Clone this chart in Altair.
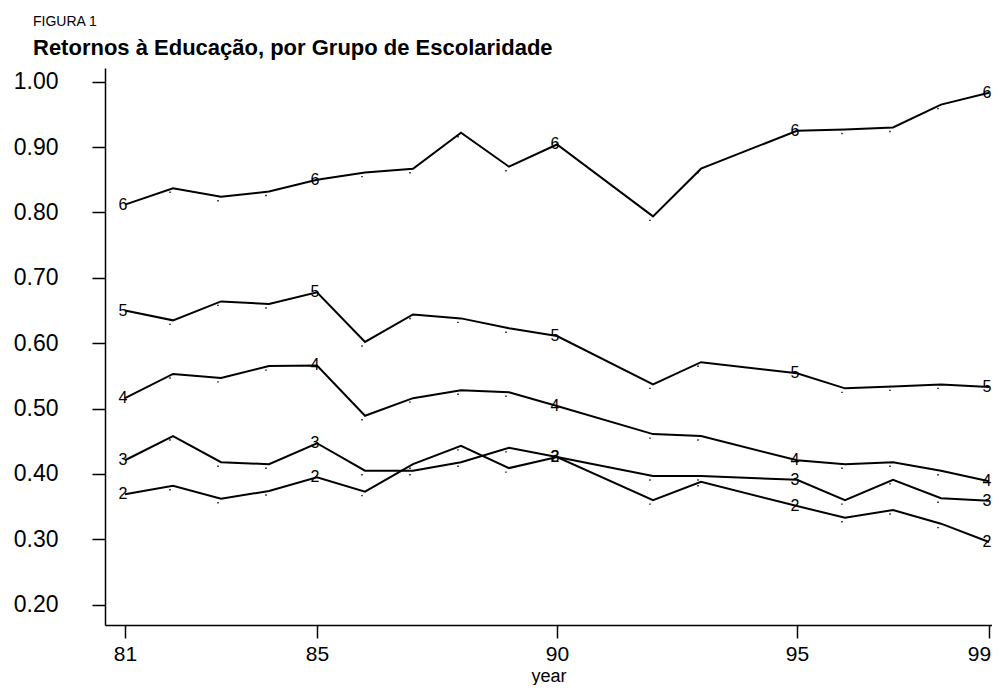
import altair as alt
import pandas as pd

years = [81, 82, 83, 84, 85, 86, 87, 88, 89, 90, 92, 93, 95, 96, 97, 98, 99]
g6 = [0.812, 0.837, 0.824, 0.832, 0.850, 0.861, 0.867, 0.922, 0.870, 0.904, 0.794, 0.867, 0.925, 0.927, 0.930, 0.965, 0.983]
g5 = [0.650, 0.635, 0.664, 0.660, 0.678, 0.602, 0.644, 0.638, 0.623, 0.611, 0.537, 0.571, 0.554, 0.531, 0.534, 0.537, 0.533]
g4 = [0.516, 0.553, 0.547, 0.565, 0.566, 0.489, 0.516, 0.528, 0.525, 0.504, 0.461, 0.458, 0.421, 0.415, 0.418, 0.405, 0.389]
g3 = [0.421, 0.458, 0.418, 0.415, 0.447, 0.405, 0.405, 0.418, 0.440, 0.426, 0.397, 0.397, 0.391, 0.360, 0.391, 0.363, 0.359]
g2 = [0.369, 0.382, 0.362, 0.374, 0.395, 0.373, 0.415, 0.443, 0.409, 0.426, 0.360, 0.388, 0.351, 0.333, 0.345, 0.324, 0.296]
groups = {"2": g2, "3": g3, "4": g4, "5": g5, "6": g6}
label_years = [81, 85, 90, 95, 99]
x_ticks = [81, 85, 90, 95, 99]
y_ticks = [0.2, 0.3, 0.4, 0.5, 0.6, 0.7, 0.8, 0.9, 1.0]
figure_label = "FIGURA 1"
title_text = "Retornos à Educação, por Grupo de Escolaridade"

rows = []
for g, vals in groups.items():
    for yr, v in zip(years, vals):
        rows.append({"year": yr, "value": v, "group": g,
                     "label": g if yr in label_years else ""})
df = pd.DataFrame(rows)

sans = "Liberation Sans, Arial, sans-serif"

xenc = alt.X("year:Q", scale=alt.Scale(domain=[80.583, 99.0625], nice=False, zero=False),
             axis=alt.Axis(values=x_ticks, format="d", title="year", grid=False,
                           labelFont=sans, labelFontSize=21, labelColor="black",
                           labelOffset={"condition": {"test": "datum.value == 99", "value": -10}, "value": 0},
                           titleFont=sans, titleFontSize=18, titleFontWeight="normal",
                           titleColor="black", titlePadding=3,
                           tickSize=13, tickWidth=1.5, tickColor="black",
                           domainColor="black", domainWidth=1.5, labelPadding=5))
yenc = alt.Y("value:Q", scale=alt.Scale(domain=[0.169, 1.021], nice=False, zero=False),
             axis=alt.Axis(values=y_ticks, format=".2f", title=None, grid=False,
                           labelFont=sans, labelFontSize=23, labelColor="black",
                           tickSize=13, tickWidth=1.5, tickColor="black",
                           domainColor="black", domainWidth=1.5, labelPadding=34))

base = alt.Chart(df)
lines = base.mark_line(color="black", strokeWidth=2).encode(x=xenc, y=yenc, detail="group:N")
dots = base.transform_filter("datum.label == ''").mark_square(
    color="black", size=2, xOffset=-3, yOffset=4, opacity=1).encode(x="year:Q", y="value:Q")
labels = base.transform_filter("datum.label != ''").mark_text(
    font=sans, fontSize=16, color="black", align="center", baseline="middle", dx=-2).encode(
    x="year:Q", y="value:Q", text="label:N")

fig_txt = alt.Chart(pd.DataFrame({"t": [figure_label]})).mark_text(
    font=sans, fontSize=14, color="black", align="left", baseline="middle").encode(
    x=alt.value(-72), y=alt.value(-46), text="t:N")
title_txt = alt.Chart(pd.DataFrame({"t": [title_text]})).mark_text(
    font=sans, fontSize=22, fontWeight="bold", color="black", align="left", baseline="middle").encode(
    x=alt.value(-72), y=alt.value(-20), text="t:N")

chart = alt.layer(lines, dots, labels, fig_txt, title_txt).properties(
    width=887, height=557,
    background="white",
    autosize=alt.AutoSizeParams(type="none"),
    padding={"left": 97, "top": 60, "right": 0, "bottom": 60},
).configure_view(stroke="transparent", strokeWidth=0)

chart.save("out.html", embed_options={"renderer": "svg", "actions": False})
